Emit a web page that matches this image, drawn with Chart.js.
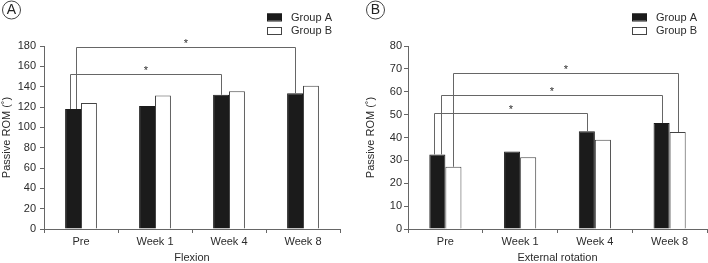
<!DOCTYPE html>
<html lang="en">
<head>
  <meta charset="UTF-8">
  <title>Passive ROM – Flexion and External rotation</title>
  <script src="https://cdn.jsdelivr.net/npm/chart.js"></script>
  <style>
    html, body { margin: 0; padding: 0; background: #fff; }
    #wrap { display: flex; width: 708px; height: 263px; }
    #wrap div { width: 354px; height: 263px; }
  </style>
</head>
<body>

<div id="wrap">
  <div><canvas id="flexChart" width="354" height="263"></canvas></div>
  <div><canvas id="erChart" width="354" height="263"></canvas></div>
</div>

<script>
// Data
const timepoints = ['Pre', 'Week 1', 'Week 4', 'Week 8'];
const seriesNames = ['Group A', 'Group B'];

// Panel A: flexion
const flexGroupA = [118, 121, 132, 133.5];
const flexGroupB = [124, 131.3, 135.5, 140.8];
const flexTicks = [0, 20, 40, 60, 80, 100, 120, 140, 160, 180];

// Panel B: external rotation
const erGroupA = [32.6, 33.9, 42.7, 46.3];
const erGroupB = [27.2, 31.4, 39, 42.4];
const erTicks = [0, 10, 20, 30, 40, 50, 60, 70, 80];

// significance brackets: [from category, from series, to category, to series, bracket level]
const flexSig = [
  [0, 0, 2, 0, 152.6],
  [0, 0, 3, 0, 178.8]
];
const erSig = [
  [0, 0, 2, 0, 50.9],
  [0, 0, 3, 0, 58.6],
  [0, 1, 3, 1, 68.3]
];

const FONT = '"Liberation Sans", Arial, sans-serif';
const TEXT = '#2b2b2b';
const AXIS = '#666';

// draws brackets, stars, legend and panel letter
const annotate = {
  id: 'annotate',
  afterDatasetsDraw(chart, args, opts) {
    const ctx = chart.ctx;
    const y = chart.scales.y;
    const barTop = (cat, set) => {
      const el = chart.getDatasetMeta(set).data[cat];
      return { x: el.x, y: el.y };
    };
    // spread left legs that start from the same bar
    const groups = {};
    opts.sig.forEach((s, i) => {
      const key = s[0] + '_' + s[1];
      (groups[key] = groups[key] || []).push(i);
    });
    ctx.save();
    ctx.strokeStyle = '#666';
    ctx.lineWidth = 1;
    ctx.fillStyle = TEXT;
    ctx.font = '11px ' + FONT;
    ctx.textAlign = 'center';
    ctx.textBaseline = 'bottom';
    opts.sig.forEach((s, i) => {
      const key = s[0] + '_' + s[1];
      const g = groups[key];
      const k = g.indexOf(i);
      const off = g.length > 1 ? (k - (g.length - 1) / 2) * 6.5 : 0;
      const a = barTop(s[0], s[1]);
      const b = barTop(s[2], s[3]);
      const ly = Math.round(y.getPixelForValue(s[4])) + 0.5;
      const x1 = Math.round(a.x + off) + 0.5;
      const x2 = Math.round(b.x) + 0.5;
      ctx.beginPath();
      ctx.moveTo(x1, a.y);
      ctx.lineTo(x1, ly);
      ctx.lineTo(x2, ly);
      ctx.lineTo(x2, b.y);
      ctx.stroke();
      ctx.fillText('*', (x1 + x2) / 2, ly + 2);
    });

    // legend
    const lx = opts.legendX;
    ctx.textAlign = 'left';
    ctx.textBaseline = 'middle';
    ctx.font = '11px ' + FONT;
    chart.data.datasets.forEach((ds, i) => {
      const top = 13.5 + i * 13.5;
      ctx.fillStyle = ds.backgroundColor;
      ctx.fillRect(lx, top, 15, 7);
      ctx.strokeStyle = ds.borderColor;
      ctx.strokeRect(lx + 0.5, top + 0.5, 14, 7);
      ctx.fillStyle = TEXT;
      ctx.fillText(ds.label, lx + 24, top + 4);
    });

    // panel letter
    ctx.beginPath();
    ctx.arc(opts.letterX, 10, 9, 0, Math.PI * 2);
    ctx.strokeStyle = '#444';
    ctx.stroke();
    ctx.fillStyle = '#222';
    ctx.font = '14px ' + FONT;
    ctx.textAlign = 'center';
    ctx.fillText(opts.letter, opts.letterX, 10.5);
    ctx.restore();
  }
};

function makeChart(id, groupA, groupB, ticks, sig, xTitle, cfg) {
  const ctx = document.getElementById(id).getContext('2d');
  return new Chart(ctx, {
    type: 'bar',
    data: {
      labels: timepoints,
      datasets: [
        { label: seriesNames[0], data: groupA, backgroundColor: '#1b1b1b', borderColor: '#1b1b1b', borderWidth: 1 },
        { label: seriesNames[1], data: groupB, backgroundColor: '#ffffff', borderColor: '#444', borderWidth: 1 }
      ]
    },
    plugins: [annotate],
    options: {
      responsive: false,
      animation: false,
      devicePixelRatio: 1,
      layout: { padding: { top: 46, right: cfg.padRight, left: cfg.padLeft, bottom: 0 } },
      datasets: { bar: { categoryPercentage: 0.43, barPercentage: 1.0 } },
      plugins: {
        legend: { display: false },
        tooltip: { enabled: false },
        annotate: { sig: sig, legendX: cfg.legendX, letter: cfg.letter, letterX: cfg.letterX }
      },
      scales: {
        x: {
          grid: { display: true, offset: true, drawOnChartArea: false, tickLength: 4, color: AXIS },
          border: { color: AXIS },
          ticks: { color: TEXT, font: { family: FONT, size: 11 }, padding: 2 },
          title: { display: true, text: xTitle, color: TEXT, font: { family: FONT, size: 11 }, padding: { top: 0, bottom: -2 } },
          afterFit: s => { s.height = 34; }
        },
        y: {
          min: ticks[0],
          max: ticks[ticks.length - 1],
          afterBuildTicks: s => { s.ticks = ticks.map(v => ({ value: v })); },
          grid: { drawOnChartArea: false, tickLength: 4, color: AXIS },
          border: { color: AXIS },
          ticks: { color: TEXT, font: { family: FONT, size: 11 }, padding: cfg.tickPad },
          title: { display: true, text: 'Passive ROM (˚)', color: TEXT, font: { family: FONT, size: 11 }, padding: 0 },
          afterFit: s => { s.width = cfg.yWidth; }
        }
      }
    }
  });
}

makeChart('flexChart', flexGroupA, flexGroupB, flexTicks, flexSig, 'Flexion',
  { padLeft: 0, padRight: 14, yWidth: 44, tickPad: 4, legendX: 267, letter: 'A', letterX: 11.5 });
makeChart('erChart', erGroupA, erGroupB, erTicks, erSig, 'External rotation',
  { padLeft: 10, padRight: 1, yWidth: 44, tickPad: 2, legendX: 278, letter: 'B', letterX: 21.5 });
</script>

</body>
</html>
